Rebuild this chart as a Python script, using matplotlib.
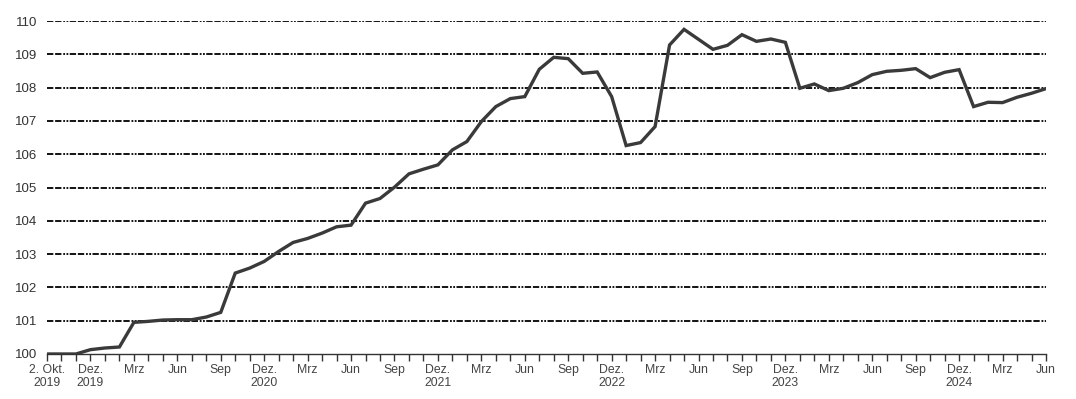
import numpy as np
import matplotlib.pyplot as plt

# index values, monthly, starting 2 Oct 2019 (=100)
werte = [100.0, 100.0, 100.0, 100.13, 100.18, 100.21, 100.95, 100.98, 101.02, 101.03,
         101.03, 101.11, 101.25, 102.43, 102.58, 102.78, 103.08, 103.35, 103.47, 103.63,
         103.82, 103.87, 104.53, 104.67, 105.01, 105.41, 105.55, 105.68, 106.13, 106.38,
         106.98, 107.43, 107.67, 107.73, 108.55, 108.91, 108.87, 108.43, 108.47, 107.73,
         106.26, 106.35, 106.83, 109.28, 109.75, 109.45, 109.15, 109.27, 109.59, 109.39,
         109.46, 109.36, 107.98, 108.11, 107.91, 107.98, 108.15, 108.39, 108.49, 108.52,
         108.57, 108.30, 108.46, 108.54, 107.43, 107.56, 107.55, 107.71, 107.83, 107.97]

tick_pos = [0, 3, 6, 9, 12, 15, 18, 21, 24, 27, 30, 33, 36, 39, 42, 45, 48, 51, 54, 57, 60, 63, 66, 69]
tick_lab = ["2. Okt.\n2019", "Dez.\n2019", "Mrz", "Jun", "Sep", "Dez.\n2020", "Mrz", "Jun",
            "Sep", "Dez.\n2021", "Mrz", "Jun", "Sep", "Dez.\n2022", "Mrz", "Jun", "Sep",
            "Dez.\n2023", "Mrz", "Jun", "Sep", "Dez.\n2024", "Mrz", "Jun"]

plt.rcParams['font.family'] = ['Liberation Sans', 'DejaVu Sans']

fig = plt.figure(figsize=(10.76, 3.99), dpi=100)
ax = fig.add_axes([0.0437, 0.1128, 0.9284, 0.8345])

x = np.arange(len(werte))
for yv in range(101, 111):
    ax.axhline(yv, color='black', lw=1.3, ls=(0, (3.5, 1, 3.5, 1, 1, 0.8, 1, 0.8)), zorder=1)
ax.plot(x, werte, color='#3a3a3a', lw=2.4, zorder=3, solid_joinstyle='miter')

ax.set_xlim(0, len(werte) - 1)
ax.set_ylim(100, 110)
ax.set_yticks(range(100, 111))
ax.set_xticks(tick_pos)
ax.set_xticklabels(tick_lab, linespacing=1.05)
ax.set_xticks(x, minor=True)
for s in ['top', 'right', 'left']:
    ax.spines[s].set_visible(False)
ax.spines['bottom'].set_color('#333333')
ax.spines['bottom'].set_linewidth(1.0)
ax.tick_params(axis='y', length=0, pad=7, labelsize=9.5, labelcolor='#333333')
ax.tick_params(axis='x', which='both', direction='out', length=5, width=1.0, color='#333333',
               pad=2.5, labelsize=8.8, labelcolor='#444444')

fig.savefig('out.png', dpi=100)
